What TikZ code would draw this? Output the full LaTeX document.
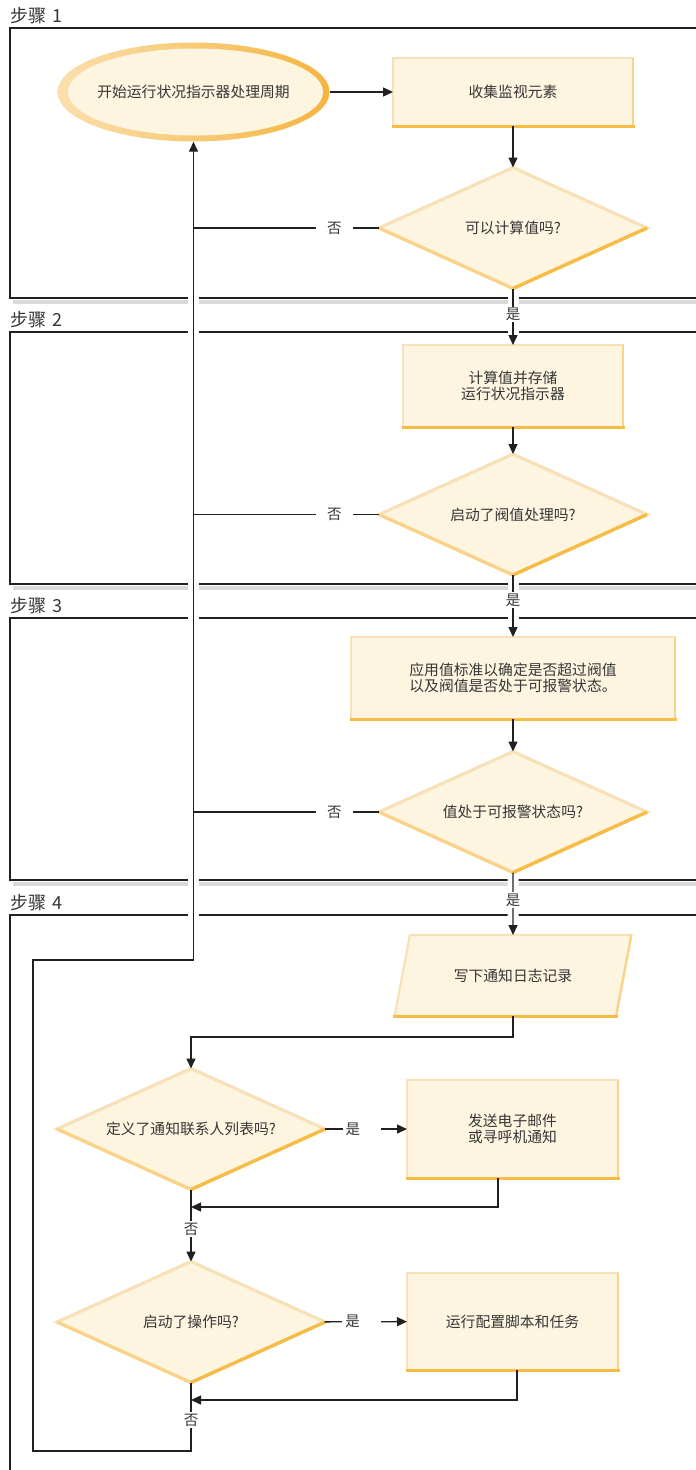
\documentclass[tikz,border=0pt]{standalone}
\usepackage{fontspec}
\setmainfont{Noto Sans CJK SC}
\usetikzlibrary{shapes.geometric,arrows.meta,positioning}
\definecolor{cream}{HTML}{FEF5E1}
\definecolor{edgeLight}{HTML}{F6E1BA}
\definecolor{edgeMid}{HTML}{F9D38A}
\definecolor{edgeDark}{HTML}{F7BC45}
\definecolor{ellLight}{HTML}{FADFAE}
\definecolor{ellDark}{HTML}{F5B53F}
\definecolor{ink}{HTML}{231F20}
\definecolor{txt}{HTML}{363636}
\definecolor{shadowgray}{HTML}{DADADA}
\newcommand{\boxfont}{\fontsize{14.8}{15.5}\selectfont}
\newcommand{\lblfont}{\fontsize{14.5}{16}\selectfont}
\newcommand{\stepfont}{\fontsize{18}{20}\selectfont}
\tikzset{stepframe/.style={draw=ink, line width=1.6pt},
	steplbl/.style={anchor=west, inner sep=0pt, text=txt, font=\stepfont},
	stepbox/.style={rectangle, fill=cream, draw=edgeLight, line width=2.2pt,
		outer sep=0pt, align=center, text=txt, font=\boxfont},
	decide/.style={diamond, aspect=2.2, fill=cream, draw=edgeLight, line width=3.2pt,
		outer sep=0pt, inner sep=0pt, minimum width=268pt, minimum height=121pt,
		align=center, text=txt, font=\boxfont},
	startnode/.style={ellipse, minimum width=271pt, minimum height=99pt,
		inner sep=0pt, left color=ellLight, right color=ellDark, text=txt, font=\boxfont,
		path picture={\fill[cream] ([xshift=2pt]path picture bounding box.center)
			ellipse [x radius=127.5pt, y radius=43.5pt];}},
	wlogbox/.style={trapezium, trapezium left angle=65.5, trapezium right angle=114.5,
		trapezium stretches=true, minimum width=237pt, minimum height=81pt,
		fill=cream, draw=edgeLight, line width=2.2pt, outer sep=0pt,
		text=txt, font=\boxfont},
	conn/.style={draw=ink, line width=1.4pt},
	arrow/.style={conn, -{Triangle[length=10pt,width=9pt]}},
	gap/.style={preaction={draw=white, line width=11pt, arrows=-,
		shorten <=6pt, shorten >=6pt}},
	yeslbl/.style={fill=white, text=txt, inner xsep=3pt, inner ysep=1.5pt, font=\lblfont},
	nolbl/.style={yeslbl, inner xsep=11pt}}
\begin{document}
\begin{tikzpicture}[x=1pt, y=-1pt]
	\useasboundingbox (0,0) rectangle (696,1470);
	% step frames
	\foreach \n/\fa/\fb in {1/28/298, 2/332/584, 3/618/880}{
		\node[steplbl] (s\n) at (10,\fa-12.5) {步骤\hspace{6pt}\n};
		\draw[shadowgray, line width=4pt] (13,\fb+3.5) -- (700,\fb+3.5);
		\draw[stepframe] (700,\fa) -- (10,\fa) -- (10,\fb) -- (700,\fb);
	}
	\node[steplbl] (s4) at (10,902.5) {步骤\hspace{6pt}4};
	\draw[stepframe] (700,915) -- (10,915) -- (10,1475);
	
	% shapes
	\node[startnode] (start) at (193.5,92) {开始运行状况指示器处理周期};
	\node[stepbox, minimum width=240pt, minimum height=68pt] (collect) at (513,92) {收集监视元素};
	\node[decide] (qcalc) at (513,228) {可以计算值吗?};
	\node[stepbox, minimum width=220pt, minimum height=82pt] (calc) at (513,386) {计算值并存储\\运行状况指示器};
	\node[decide] (qthr) at (513,514.5) {启动了阀值处理吗?};
	\node[stepbox, minimum width=324pt, minimum height=82pt] (apply) at (513,678) {应用值标准以确定是否超过阀值\\以及阀值是否处于可报警状态。};
	\node[decide] (qalert) at (513,812) {值处于可报警状态吗?};
	\node[wlogbox] (wlog) at (513,975.5) {写下通知日志记录};
	\node[decide] (qlist) at (191,1129) {定义了通知联系人列表吗?};
	\node[stepbox, minimum width=211pt, minimum height=98pt] (mail) at (512.5,1129) {发送电子邮件\\或寻呼机通知};
	\node[decide] (qact) at (191,1322) {启动了操作吗?};
	\node[stepbox, minimum width=211pt, minimum height=97pt] (run) at (512.5,1321.5) {运行配置脚本和任务};
	
	% darker lower edges
	\foreach \n in {collect,calc,apply,mail,run}{
		\draw[edgeMid, line width=2.2pt] (\n.north east) -- (\n.south east);
		\draw[edgeDark, line width=3pt, line cap=rect] (\n.south west) -- (\n.south east);
	}
	\foreach \n in {qcalc,qthr,qalert,qlist,qact}{
		\draw[edgeMid, line width=3.2pt] (\n.west) -- (\n.south) -- (\n.east);
		\draw[edgeDark, line width=3.2pt] (\n.south) -- (\n.east);
	}
	\draw[edgeMid, line width=2.2pt] (wlog.bottom right corner) -- (wlog.top right corner);
	\draw[edgeDark, line width=3pt, line cap=rect] (wlog.bottom left corner) -- (wlog.bottom right corner);
	
	% loop back to start
	\coordinate (lb) at (33,1451);
	\coordinate (lt) at (33,960);
	\draw[arrow, gap] (qact) -- node[yeslbl, pos=0.55] {否} (qact |- lb) -- (lb) -- (lt) -| (start);
	
	% main line
	\draw[arrow] (start) -- (collect);
	\draw[arrow] (collect) -- (qcalc);
	\draw[arrow, gap] (qcalc) -- node[yeslbl, pos=0.46] {是} (calc);
	\draw[arrow] (calc) -- (qthr);
	\draw[arrow, gap] (qthr) -- node[yeslbl, pos=0.4] {是} (apply);
	\draw[arrow] (apply) -- (qalert);
	\draw[arrow, gap] (qalert) -- node[yeslbl, pos=0.44] {是} (wlog);
	\foreach \n in {qcalc,qthr,qalert}
		\draw[conn] (\n.west) -- node[nolbl, pos=0.24] {否} (\n.west -| start.south);
	\draw[arrow] (wlog.south) -- ++(0,21) -| (qlist.north);
	\draw[arrow] (qlist) -- node[yeslbl, pos=0.45] {是\rule{18pt}{0pt}} (mail);
	\draw[arrow] (qlist) -- node[yeslbl, pos=0.55] {否} (qact);
	\draw[arrow] (qact) -- node[yeslbl, pos=0.45] {是\rule{18pt}{0pt}} (run);
	\coordinate (mailret) at (191,1207);
	\coordinate (runret) at (191,1400);
	\draw[arrow] ([xshift=-14.5pt]mail.south) |- (mailret);
	\draw[arrow] ([xshift=4.5pt]run.south) |- (runret);
\end{tikzpicture}
\end{document}
